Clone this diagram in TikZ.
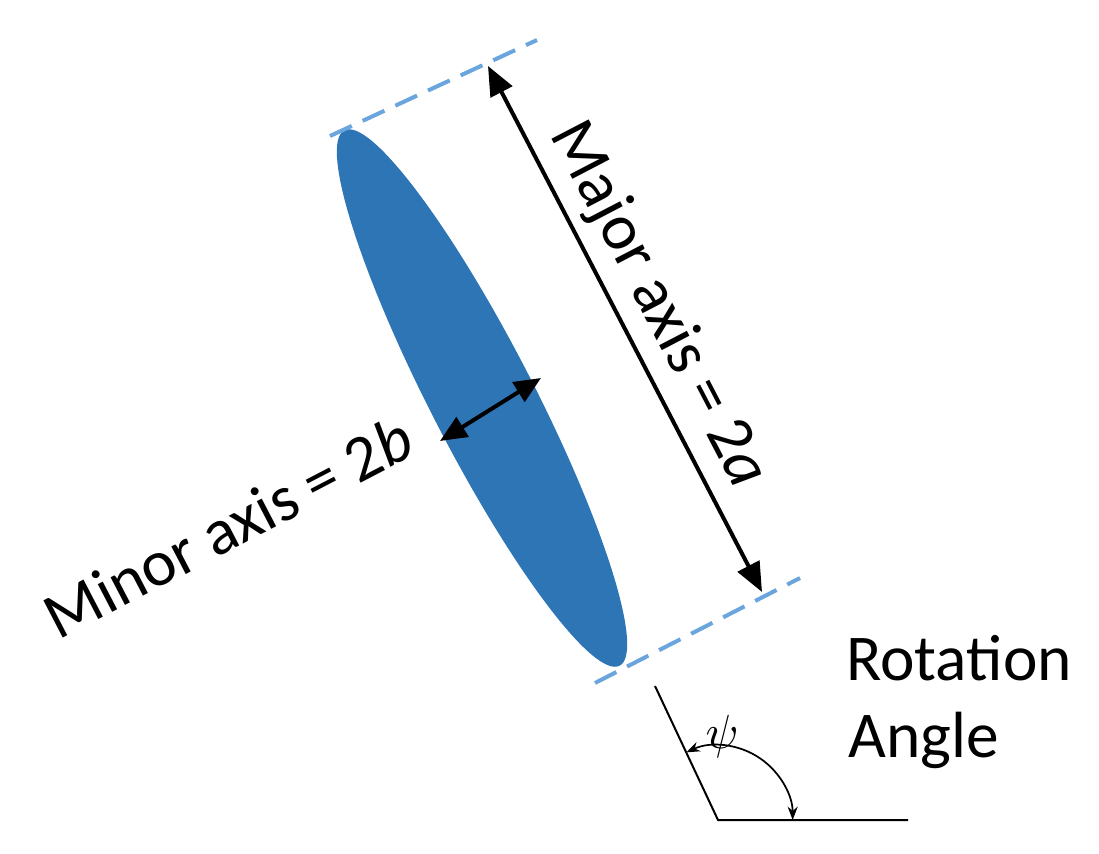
\documentclass[tikz,border=0pt]{standalone}
\usepackage{fontspec}
\setmainfont{Carlito}
\usetikzlibrary{arrows.meta}
\definecolor{ellblue}{HTML}{2E75B6}
\definecolor{dashblue}{HTML}{6AA6DD}
\begin{document}
\begin{tikzpicture}[x=0.75pt,y=-0.75pt,
  lbl/.style={font=\fontsize{49}{58}\selectfont,inner sep=0pt},
  dim/.style={line width=3pt,{Triangle[length=22pt,width=18pt]}-{Triangle[length=22pt,width=18pt]}},
  dsh/.style={dashblue,line width=3pt,dash pattern=on 18pt off 9pt}]
\useasboundingbox (0,0) rectangle (1099,853);
\fill[ellblue,rotate around={-62.8:(482,398)}] (482,398) ellipse [x radius=301, y radius=52];
\coordinate (t1) at (330,136); \coordinate (t2) at (537,40);
\coordinate (b1) at (595,683); \coordinate (b2) at (800,578);
\draw[dsh] (t1) -- (t2);
\draw[dsh] (b1) -- (b2);
\coordinate (ma1) at (488,66); \coordinate (ma2) at (762,592);
\draw[dim] (ma1) -- (ma2);
\node[lbl,rotate=-62.5] (maj) at (658,305) {Major axis = 2\textit{a}};
\coordinate (mi1) at (440,441); \coordinate (mi2) at (541,378);
\draw[line width=3pt,{Triangle[length=20pt,width=17pt]}-{Triangle[length=20pt,width=17pt]}] (mi1) -- (mi2);
\node[lbl,rotate=27.5] (mino) at (228,527) {Minor axis = 2\textit{b}};
\coordinate (o) at (718,820);
\coordinate (s) at (655,686);
\coordinate (h) at (908,820);
\draw[line width=1.5pt] (s) -- (o) -- (h);
\draw[line width=1.3pt,{Stealth[length=10pt]}-{Stealth[length=10pt]}] ([shift={(115:56pt)}]o) arc[start angle=115,end angle=0,radius=56pt];
\node[inner sep=0pt] (psi) at (722,736) {\scalebox{3.6}{$\psi$}};
\node[lbl,anchor=west] (rot) at (846,658) {Rotation};
\node[lbl,anchor=west] (ang) at (848,740) {Angle};
\end{tikzpicture}
\end{document}
